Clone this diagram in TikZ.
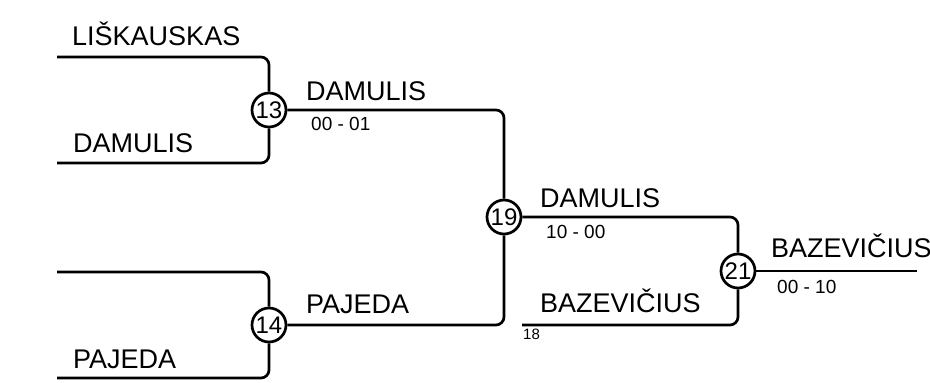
\documentclass[tikz,border=0pt]{standalone}
\usepackage{fontspec}
\setmainfont{Liberation Sans}
\begin{document}
\begin{tikzpicture}[x=1pt,y=-1pt,
  conn/.style={line width=2.7pt,rounded corners=8pt},
  game/.style={circle,draw,line width=2.7pt,minimum size=34pt,inner sep=0pt,font=\fontsize{24}{24}\selectfont},
  player/.style={anchor=base west,inner sep=0pt,font=\fontsize{27}{27}\selectfont},
  score/.style={anchor=base west,inner sep=0pt,font=\fontsize{19}{19}\selectfont},
  seed/.style={anchor=base west,inner sep=0pt,font=\fontsize{15}{15}\selectfont}]
\useasboundingbox (0,0) rectangle (930,383);
% games
\node[game] (c13) at (269,110) {13};
\node[game] (c14) at (269,325) {14};
\node[game] (c19) at (504,217) {19};
\node[game] (c21) at (738,271) {21};
% free ends
\coordinate (a1) at (57,57);
\coordinate (a2) at (57,163);
\coordinate (a3) at (57,272);
\coordinate (a4) at (57,378);
\coordinate (b1) at (522,325);
\coordinate (w) at (917,271);
% connectors
\draw[conn] (a1) -| (c13);
\draw[conn] (a2) -| (c13);
\draw[conn] (a3) -| (c14);
\draw[conn] (a4) -| (c14);
\draw[conn] (c13) -| (c19);
\draw[conn] (c14) -| (c19);
\draw[conn] (c19) -| (c21);
\draw[conn] (b1) -| (c21);
\draw[conn] (c21) -- (w);
% texts
\node[player] (t1) at (72,45) {LIŠKAUSKAS};
\node[player] (t2) at (73,152) {DAMULIS};
\node[player] (t4) at (73,368) {PAJEDA};
\node[player] (t5) at (306,100) {DAMULIS};
\node[score] (s5) at (311,130) {00 - 01};
\node[player] (t6) at (306,313) {PAJEDA};
\node[player] (t7) at (540,207) {DAMULIS};
\node[score] (s7) at (546,238) {10 - 00};
\node[player] (t8) at (540,312) {BAZEVIČIUS};
\node[seed] (s8) at (523,339) {18};
\node[player] (t9) at (771,257) {BAZEVIČIUS};
\node[score] (s9) at (777,293) {00 - 10};
\end{tikzpicture}
\end{document}
